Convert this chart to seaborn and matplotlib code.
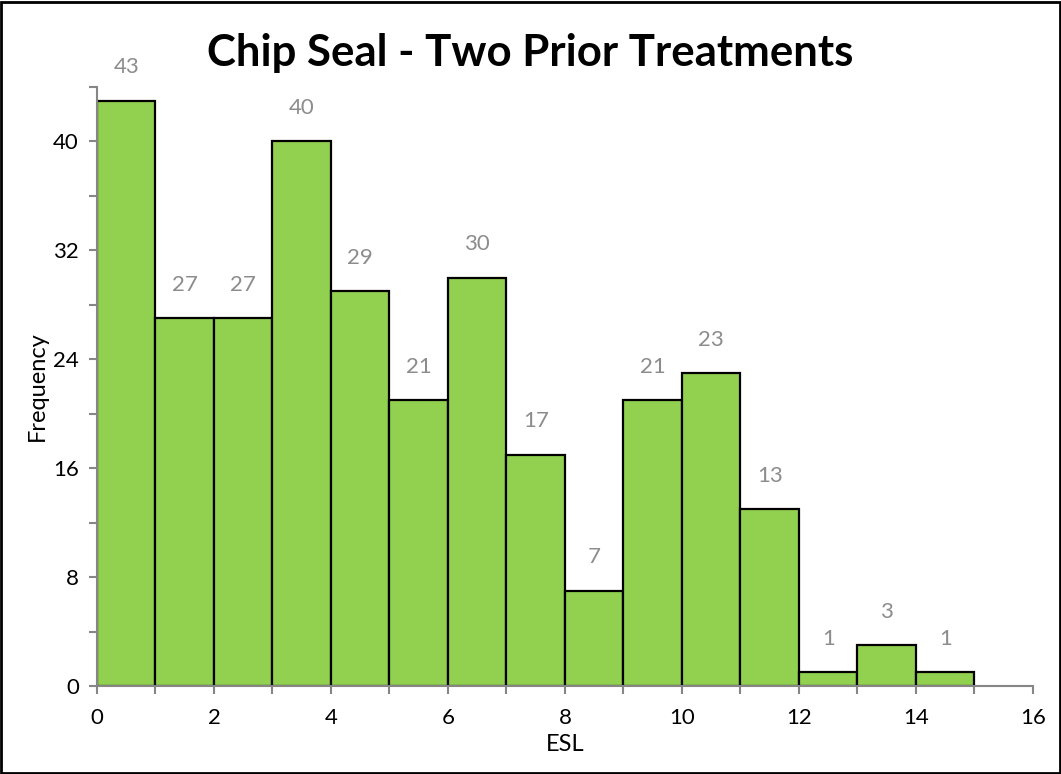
import matplotlib
matplotlib.use("Agg")
import matplotlib.pyplot as plt
import numpy as np
import pandas as pd
import seaborn as sns
from matplotlib.patches import Rectangle
from matplotlib.ticker import MultipleLocator

TITLE = "Chip Seal - Two Prior Treatments"
X_LABEL = "ESL"
Y_LABEL = "Frequency"
BIN_LEFTS = [0, 1, 2, 3, 4, 5, 6, 7, 8, 9, 10, 11, 12, 13, 14]
COUNTS = [43, 27, 27, 40, 29, 21, 30, 17, 7, 21, 23, 13, 1, 3, 1]
BIN_EDGES = BIN_LEFTS + [15]

BAR_COLOR = "#92D050"
AXIS_GREY = "#868686"
LABEL_GREY = "#8C8C8C"


def main() -> None:
    sns.set_style("white")
    plt.rcParams["font.family"] = ["Lato", "DejaVu Sans"]

    df = pd.DataFrame({"esl": np.array(BIN_LEFTS) + 0.5, "count": COUNTS})

    fig = plt.figure(figsize=(10.61, 7.74), dpi=100)
    ax = fig.add_axes([0.0914, 0.1137, 0.8822, 0.7739])

    sns.histplot(
        data=df,
        x="esl",
        weights="count",
        bins=BIN_EDGES,
        color=BAR_COLOR,
        alpha=1,
        edgecolor="black",
        linewidth=1.6,
        ax=ax,
    )

    # count labels above each bar
    for left, count in zip(BIN_LEFTS, COUNTS):
        ax.annotate(
            str(count),
            xy=(left + 0.5, count),
            xytext=(0, 24),
            textcoords="offset points",
            ha="center",
            va="center",
            fontsize=16,
            color=LABEL_GREY,
        )

    ax.set_xlim(0, 16)
    ax.set_ylim(0, 44)
    ax.xaxis.set_major_locator(MultipleLocator(2))
    ax.xaxis.set_minor_locator(MultipleLocator(1))
    ax.yaxis.set_major_locator(MultipleLocator(8))
    ax.yaxis.set_minor_locator(MultipleLocator(4))

    for side in ["top", "right"]:
        ax.spines[side].set_visible(False)
    for side in ["left", "bottom"]:
        ax.spines[side].set_color(AXIS_GREY)
        ax.spines[side].set_linewidth(1.5)

    ax.tick_params(which="both", direction="out", length=6, width=1.5,
                   color=AXIS_GREY, left=True, bottom=True)
    ax.tick_params(which="major", labelsize=16, labelcolor="black")
    ax.tick_params(axis="x", which="major", pad=10)
    ax.tick_params(axis="y", which="major", pad=7)

    ax.set_xlabel(X_LABEL, fontsize=17, labelpad=4, color="black")
    ax.set_ylabel(Y_LABEL, fontsize=17, labelpad=4, color="black")
    fig.suptitle(TITLE, fontsize=31.5, fontweight="bold", x=0.5, y=0.958, color="black")

    # outer chart border
    fig.patches.append(Rectangle((0.001, 0.001), 0.998, 0.997, transform=fig.transFigure,
                                 fill=False, edgecolor="black", linewidth=2))

    fig.savefig("out.png", dpi=100)
    plt.close(fig)


if __name__ == "__main__":
    main()
